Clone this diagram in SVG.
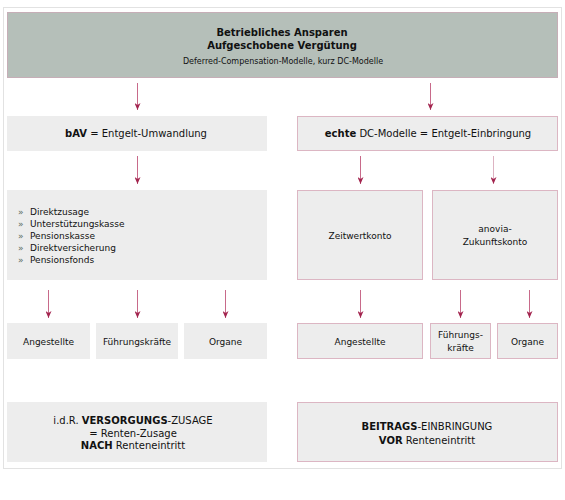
<svg xmlns="http://www.w3.org/2000/svg" width="565" height="500" viewBox="0 0 565 500">
<defs>
<marker id="ah" markerWidth="7" markerHeight="6" refX="7" refY="3" orient="auto" markerUnits="userSpaceOnUse">
<path d="M0,0 L7,3 L0,6 L2,3 Z" fill="#a3254f"/>
</marker>
</defs>
<style>
.frame{fill:#fff;stroke:#e2e2e2;stroke-width:1}
.hdr{fill:#b5bfb9;stroke:#c6aeb7;stroke-width:1}
.box{fill:#ededed}
.pbox{fill:#ededed;stroke:#dcb6c3;stroke-width:1}
.t{font-family:"DejaVu Sans",Verdana,sans-serif;fill:#111;text-anchor:middle}
.s9{font-size:9px}
.s10{font-size:10px}
.s8{font-size:8px}
.b{font-weight:bold}
.l{text-anchor:start}
.bul{fill:#5a6b60}
.conn line{stroke:#c86a8a;stroke-width:1;marker-end:url(#ah)}
.conn line.pale{stroke:#ddb3c2}
</style>
<rect class="frame" x="3.5" y="7.5" width="558" height="461"/>

<g id="header">
<rect class="hdr" x="7.5" y="12.5" width="550" height="65"/>
<text class="t s10 b" x="282" y="36">Betriebliches Ansparen</text>
<text class="t s10 b" x="282" y="49">Aufgeschobene Vergütung</text>
<text class="t s8" x="283" y="64">Deferred-Compensation-Modelle, kurz DC-Modelle</text>
</g>

<g id="bav">
<rect class="box" x="7" y="116" width="260" height="35"/>
<text class="t s10" x="136" y="137"><tspan class="b">bAV</tspan> = Entgelt-Umwandlung</text>
</g>

<g id="echte">
<rect class="pbox" x="297.5" y="116.5" width="260" height="34"/>
<text class="t s10" x="428" y="137"><tspan class="b">echte</tspan> DC-Modelle = Entgelt-Einbringung</text>
</g>

<g id="liste">
<rect class="box" x="7" y="190" width="260" height="90"/>
<text class="t s9 l bul" x="18" y="215">»</text>
<text class="t s9 l" x="30" y="215">Direktzusage</text>
<text class="t s9 l bul" x="18" y="227">»</text>
<text class="t s9 l" x="30" y="227">Unterstützungskasse</text>
<text class="t s9 l bul" x="18" y="239">»</text>
<text class="t s9 l" x="30" y="239">Pensionskasse</text>
<text class="t s9 l bul" x="18" y="251">»</text>
<text class="t s9 l" x="30" y="251">Direktversicherung</text>
<text class="t s9 l bul" x="18" y="263">»</text>
<text class="t s9 l" x="30" y="263">Pensionsfonds</text>
</g>

<g id="zeitwertkonto">
<rect class="pbox" x="297.5" y="190.5" width="125" height="89"/>
<text class="t s9" x="360" y="239">Zeitwertkonto</text>
</g>

<g id="anovia">
<rect class="pbox" x="432.5" y="190.5" width="125" height="89"/>
<text class="t s9" x="495" y="232">anovia-</text>
<text class="t s9" x="495" y="245">Zukunftskonto</text>
</g>

<g id="l-angestellte">
<rect class="box" x="7" y="323" width="83" height="36"/>
<text class="t s9" x="48.5" y="344.5">Angestellte</text>
</g>
<g id="l-fuehrung">
<rect class="box" x="96" y="323" width="82" height="36"/>
<text class="t s9" x="137" y="344.5">Führungskräfte</text>
</g>
<g id="l-organe">
<rect class="box" x="184" y="323" width="83" height="36"/>
<text class="t s9" x="225.5" y="344.5">Organe</text>
</g>

<g id="r-angestellte">
<rect class="pbox" x="297.5" y="323.5" width="125" height="35"/>
<text class="t s9" x="360" y="344.5">Angestellte</text>
</g>
<g id="r-fuehrung">
<rect class="pbox" x="430.5" y="323.5" width="60" height="35"/>
<text class="t s9" x="460.5" y="338">Führungs-</text>
<text class="t s9" x="460.5" y="351">kräfte</text>
</g>
<g id="r-organe">
<rect class="pbox" x="497.5" y="323.5" width="60" height="35"/>
<text class="t s9" x="527.5" y="344.5">Organe</text>
</g>

<g id="versorgung">
<rect class="box" x="7" y="402" width="260" height="60"/>
<text class="t s10" x="133" y="424">i.d.R. <tspan class="b">VERSORGUNGS</tspan>-ZUSAGE</text>
<text class="t s10" x="133" y="436.5">= Renten-Zusage</text>
<text class="t s10" x="133" y="449"><tspan class="b">NACH</tspan> Renteneintritt</text>
</g>

<g id="beitrag">
<rect class="pbox" x="297.5" y="402.5" width="260" height="59"/>
<text class="t s10" x="427" y="429.5"><tspan class="b">BEITRAGS</tspan>-EINBRINGUNG</text>
<text class="t s10" x="427" y="443.5"><tspan class="b">VOR</tspan> Renteneintritt</text>
</g>

<g id="connectors" class="conn">
<line x1="137.5" y1="83" x2="137.5" y2="110"/>
<line x1="430.5" y1="83" x2="430.5" y2="110"/>
<line x1="137.5" y1="156" x2="137.5" y2="184"/>
<line x1="360.5" y1="156" x2="360.5" y2="184"/>
<line class="pale" x1="493.5" y1="156" x2="493.5" y2="184"/>
<line x1="48.5" y1="290" x2="48.5" y2="318"/>
<line x1="137.5" y1="290" x2="137.5" y2="318"/>
<line x1="225.5" y1="290" x2="225.5" y2="318"/>
<line x1="360.5" y1="290" x2="360.5" y2="318"/>
<line x1="460.5" y1="290" x2="460.5" y2="318"/>
<line x1="529.5" y1="290" x2="529.5" y2="318"/>
</g>
</svg>
